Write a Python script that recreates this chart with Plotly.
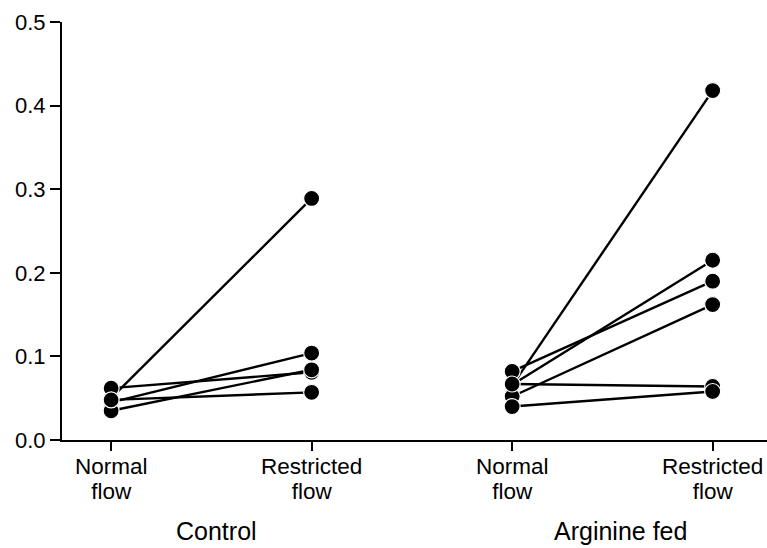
import plotly.graph_objects as go

# Data
groups = ["Control", "Arginine fed"]
conditions = ["Normal<br>flow", "Restricted<br>flow"]
control_normal = [0.050, 0.062, 0.045, 0.035, 0.048]
control_restricted = [0.289, 0.081, 0.104, 0.084, 0.057]
arginine_normal = [0.065, 0.082, 0.066, 0.052, 0.067, 0.040]
arginine_restricted = [0.418, 0.190, 0.215, 0.162, 0.064, 0.058]
y_ticks = [0.0, 0.1, 0.2, 0.3, 0.4, 0.5]

fig = go.Figure()

def add_pairs(x0, normal, restricted):
    for a, b in zip(normal, restricted):
        fig.add_trace(go.Scatter(
            x=[x0, x0 + 1], y=[a, b], mode="lines+markers",
            line=dict(color="black", width=2.4),
            marker=dict(size=16, color="black", line=dict(color="white", width=1.2)),
            showlegend=False, cliponaxis=False, hoverinfo="skip"))

add_pairs(0, control_normal, control_restricted)
add_pairs(2, arginine_normal, arginine_restricted)

def big(label, px=22.5):
    return "<br>".join(f"<span style='font-size:{px}px'>{part}</span>" for part in label.split("<br>"))

font_family = "Liberation Sans, Arial, sans-serif"
fig.update_layout(
    width=767, height=548,
    margin=dict(l=62, r=0, t=22, b=108),
    plot_bgcolor="white", paper_bgcolor="white",
    font=dict(family=font_family, color="black", size=17),
    xaxis=dict(range=[-0.245, 3.271], tickvals=[0, 1, 2, 3],
               ticktext=[big(c) for c in conditions] * 2, showgrid=False, zeroline=False,
               showline=True, linecolor="black", linewidth=2,
               ticks="outside", ticklen=9, tickwidth=2, tickcolor="black",
               tickfont=dict(size=19, family=font_family)),
    yaxis=dict(range=[0, 0.5], tickvals=y_ticks,
               ticktext=[f"{v:.1f}" for v in y_ticks], showgrid=False,
               zeroline=False, showline=True, linecolor="black", linewidth=2,
               ticks="outside", ticklen=10, tickwidth=2, tickcolor="black",
               tickfont=dict(size=22, family=font_family)),
)

group_x = [0.524, 2.54]
for gx, g in zip(group_x, groups):
    fig.add_annotation(x=gx, y=-0.218, xref="x", yref="paper",
                       text=g, showarrow=False, yanchor="middle",
                       font=dict(size=25, family=font_family, color="black"))

fig.write_html("out.html")
